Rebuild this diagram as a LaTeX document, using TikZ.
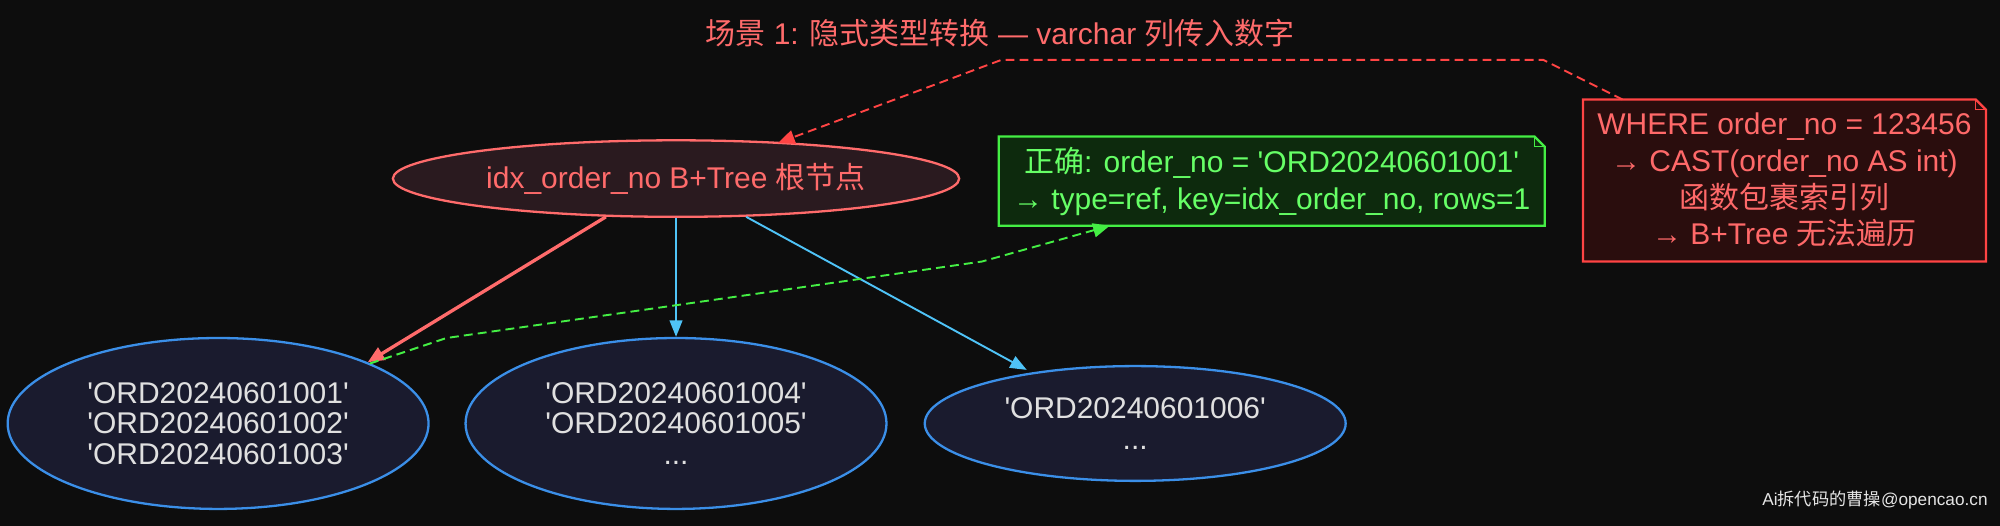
\documentclass[tikz,border=0pt]{standalone}
\usepackage{fontspec}
\setmainfont{Liberation Sans}
\newfontfamily\cjk{Noto Sans CJK SC}
\usetikzlibrary{shapes.geometric,arrows.meta}
\newcommand\qq{\textquotesingle}
\newcommand\zh[1]{{\cjk #1}}
\definecolor{bg}{HTML}{0D0D0D}
\definecolor{redc}{HTML}{FF6B6B}
\definecolor{bluec}{HTML}{3B8FE8}
\definecolor{cyanc}{HTML}{4FC3F7}
\definecolor{greenc}{HTML}{44EE44}
\definecolor{noter}{HTML}{FF4444}
\definecolor{leaffill}{HTML}{1A1B2E}
\definecolor{rootfill}{HTML}{2A1A1F}
\definecolor{gfill}{HTML}{0D2A0D}
\definecolor{rfill}{HTML}{2A0D0D}
\definecolor{gtext}{HTML}{66FF66}
\definecolor{rtext}{HTML}{FF6969}
\tikzset{
 leaf/.style={ellipse,draw=bluec,line width=1.8pt,fill=leaffill,text=white!88!black,font=\fontsize{23.5}{24}\selectfont,align=center,inner sep=0pt},
 note/.style={align=center,font=\fontsize{23.5}{29}\selectfont,inner sep=0pt},
 dsh/.style={line width=1.5pt,dash pattern=on 7pt off 4pt},
}
\begin{document}
\begin{tikzpicture}[x=1pt,y=-1pt]
\useasboundingbox[fill=bg] (0,0) rectangle (1568,412);
\node[text=redc,font=\fontsize{23.5}{24}\selectfont] (title) at (784,26) {\zh{场景} 1: \zh{隐式类型转换} — varchar \zh{列传入数字}};
\node[ellipse,draw=redc,line width=1.8pt,fill=rootfill,text=redc,font=\fontsize{23.5}{24}\selectfont,minimum width=444pt,minimum height=60pt,inner sep=0pt] (root) at (530,140) {idx\_order\_no B+Tree \zh{根节点}};
\node[leaf,minimum width=330pt,minimum height=134pt] (l1) at (171,332) {\qq ORD20240601001\qq\\\qq ORD20240601002\qq\\\qq ORD20240601003\qq};
\node[leaf,minimum width=330pt,minimum height=134pt] (l2) at (530,332) {\qq ORD20240601004\qq\\\qq ORD20240601005\qq\\...};
\node[leaf,minimum width=330pt,minimum height=90pt] (l3) at (890,332) {\qq ORD20240601006\qq\\...};
\draw[redc,line width=2.6pt,-{Triangle[length=13pt,width=11pt]}] (475,170) -- (l1.north east);
\draw[cyanc,line width=1.5pt,-{Triangle[length=13pt,width=10pt]}] (root.south) -- (l2.north);
\draw[cyanc,line width=1.5pt,-{Triangle[length=13pt,width=10pt]}] (585,170) -- (805,290);
% green note
\fill[gfill] (783,107) -- (1203,107) -- (1211,115) -- (1211,177) -- (783,177) -- cycle;
\draw[greenc,line width=1.8pt] (783,107) -- (1203,107) -- (1211,115) -- (1211,177) -- (783,177) -- cycle;
\draw[greenc,line width=1pt] (1203,107) -- (1203,115) -- (1211,115);
\node[text=gtext,note] (gn) at (997,142) {\zh{正确}: order\_no = \qq ORD20240601001\qq\\→ type=ref, key=idx\_order\_no, rows=1};
\coordinate (gt) at (870,177);
% red note
\fill[rfill] (1241,78) -- (1549,78) -- (1557,86) -- (1557,205) -- (1241,205) -- cycle;
\draw[noter,line width=1.8pt] (1241,78) -- (1549,78) -- (1557,86) -- (1557,205) -- (1241,205) -- cycle;
\draw[noter,line width=1pt] (1549,78) -- (1549,86) -- (1557,86);
\node[text=rtext,note] (rn) at (1399,141) {WHERE order\_no = 123456\\→ CAST(order\_no AS int)\\\zh{函数包裹索引列}\\→ B+Tree \zh{无法遍历}};
\coordinate (rt) at (1272,78);
\draw[noter,dsh,-{Triangle[length=13pt,width=11pt]}] (rt) -- (1210,47) -- (785,47) -- (610,112);
\draw[greenc,dsh,-{Triangle[length=13pt,width=11pt]}] (290,285) -- (350,265) -- (770,205) -- (gt);
\node[text=white!90!black,font=\fontsize{13.5}{16}\selectfont] (wm) at (1470,392) {Ai\zh{拆代码的曹操}@opencao.cn};
\end{tikzpicture}
\end{document}
